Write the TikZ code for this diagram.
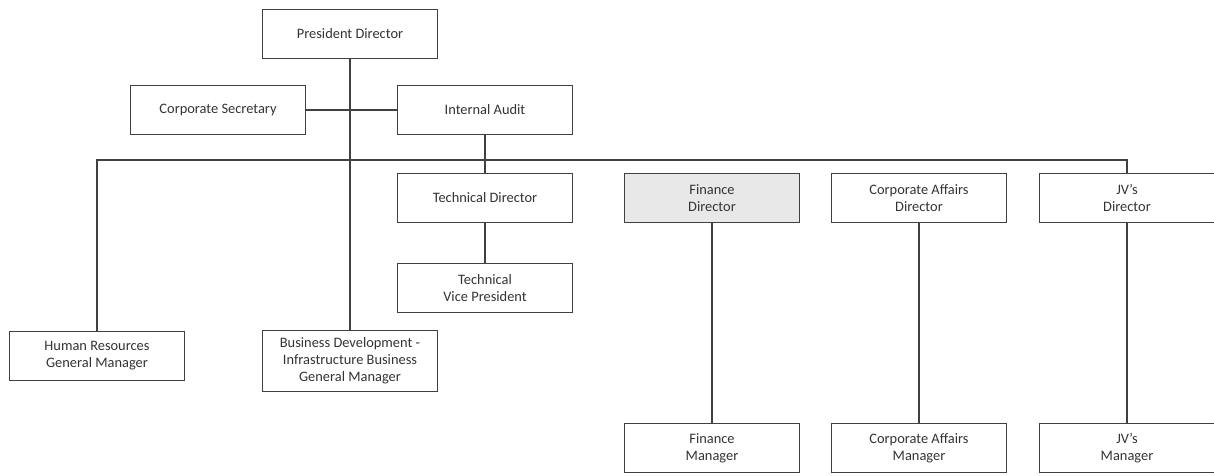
\documentclass[tikz,border=0pt]{standalone}
\usepackage{fontspec}
\setmainfont{Carlito}
\usepackage{tikz}
\usetikzlibrary{positioning,calc}

\begin{document}
\begin{tikzpicture}[x=0.02cm, y=-0.02cm,
    unit/.style={draw=black!75, line width=0.6pt, minimum width=3.5cm, minimum height=0.98cm, align=center, inner sep=1pt, text=black!80, font=\fontsize{8.2}{9.8}\selectfont},
    link/.style={draw=black!75, line width=0.6pt}
]
\useasboundingbox (0,0) rectangle (1214,476);
% top level
\node[unit] (pres) at (350,34) {President Director};
\node[unit] (sec) at (218,110) {Corporate Secretary};
\node[unit] (audit) at (485,110) {Internal Audit};
% directors
\node[unit] (tech) at (485,198) {Technical Director};
\node[unit] (techvp) at (485,288) {Technical\\Vice President};
\node[unit, fill=black!9] (fin) at (712,198) {Finance\\Director};
\node[unit] (corp) at (919,198) {Corporate Affairs\\Director};
\node[unit] (jv) at (1127,198) {JV's\\Director};
% general managers
\node[unit] (hr) at (97,356) {Human Resources\\General Manager};
\node[unit, minimum height=1.22cm] (bizdev) at (350,361) {Business Development -\\Infrastructure Business\\General Manager};
% managers
\node[unit] (finmgr) at (712,448) {Finance\\Manager};
\node[unit] (corpmgr) at (919,448) {Corporate Affairs\\Manager};
\node[unit] (jvmgr) at (1127,448) {JV's\\Manager};

\coordinate (busR) at (1127,160);

\draw[link] (pres) -- (bizdev);
\draw[link] (sec) -- (audit);
\draw[link] (hr.north) |- (busR) -- (jv.north);
\draw[link] (audit) -- (tech);
\draw[link] (tech) -- (techvp);
\draw[link] (fin) -- (finmgr);
\draw[link] (corp) -- (corpmgr);
\draw[link] (jv) -- (jvmgr);
\end{tikzpicture}
\end{document}
